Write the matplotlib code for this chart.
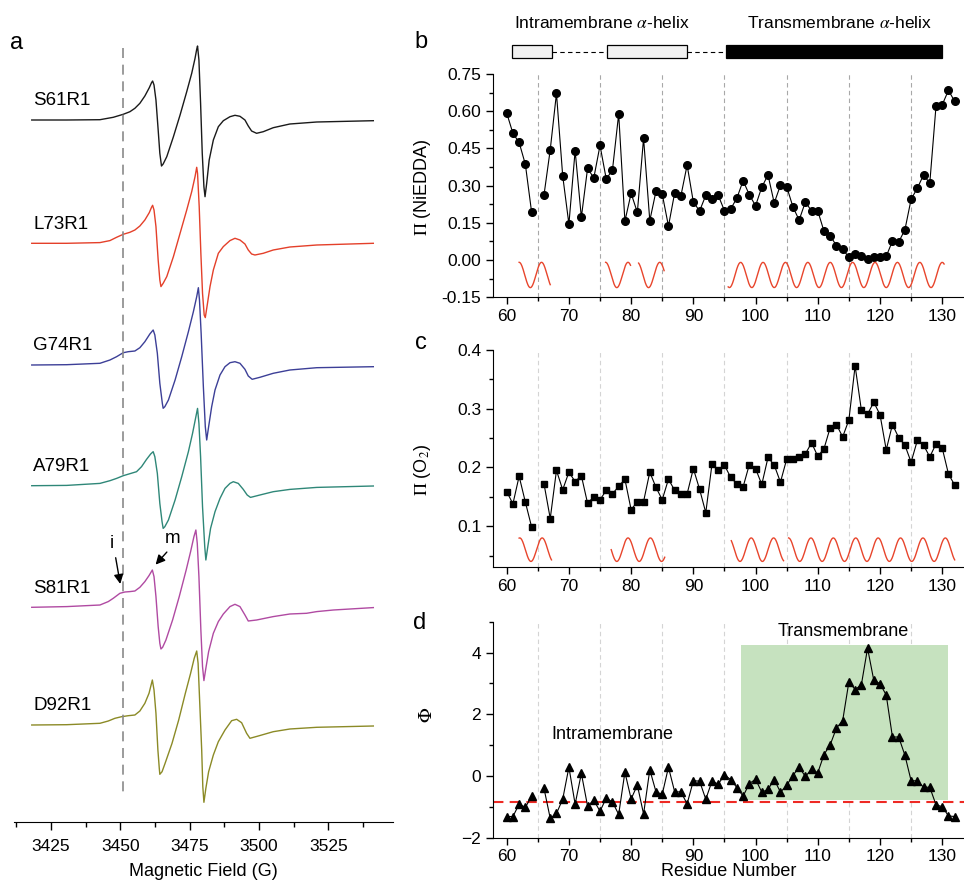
import matplotlib.pyplot as plt
import numpy as np
from matplotlib.ticker import MultipleLocator, FormatStrFormatter
from matplotlib.patches import Rectangle

plt.rcParams['font.family'] = ['Liberation Sans', 'DejaVu Sans']
plt.rcParams['mathtext.fontset'] = 'stix'
plt.rcParams['font.size'] = 12.5

# ---- panel a: EPR spectra (field in G, amplitude in a.u. above each baseline) ----
names = ['S61R1', 'L73R1', 'G74R1', 'A79R1', 'S81R1', 'D92R1']
colors = ['#1a1a1a', '#e4402a', '#3c3f97', '#2f8778', '#b04aa2', '#8b8a26']
baselines = [0, -123.3, -245, -365.7, -487.3, -605]

field_s61 = [3418.0, 3430.6, 3442.6, 3447.4, 3451.0, 3453.4, 3455.2, 3457.0, 3458.8, 3460.4,
             3461.2, 3461.6, 3462.1, 3462.8, 3463.6, 3464.2, 3464.8, 3465.4, 3466.7, 3469.1,
             3471.5, 3473.9, 3475.7, 3476.9, 3477.5, 3477.8, 3478.3, 3478.9, 3479.5, 3480.1,
             3480.5, 3481.1, 3482.0, 3483.5, 3485.3, 3487.1, 3489.5, 3491.3, 3493.1, 3494.9,
             3496.1, 3497.3, 3499.1, 3501.5, 3505.1, 3511.1, 3520.8, 3541.2]
amp_s61 = [0, 0, 0.3, 2.7, 5.7, 8.3, 11.7, 16.7, 24, 32.3,
           37.3, 39, 35, 20, -10, -33.3, -46, -44, -36.7, -16.7,
           5, 28.3, 46.7, 61.7, 70.7, 74, 60, 16.7, -33.3, -66.7,
           -76.7, -63.3, -40, -20, -6.7, -0.7, 3.3, 4.7, 3.7, 0,
           -6, -11, -13.3, -11.7, -7.7, -4, -2, -0.7]

field_l73 = [3418.0, 3430.6, 3442.6, 3446.2, 3448.6, 3451.0, 3453.4, 3455.2, 3457.0, 3458.8,
             3460.4, 3461.2, 3461.6, 3462.1, 3462.8, 3463.6, 3464.2, 3464.6, 3465.4, 3466.7,
             3469.1, 3471.5, 3473.9, 3475.7, 3476.9, 3477.5, 3477.8, 3478.4, 3479.0, 3479.6,
             3480.2, 3480.6, 3481.3, 3482.3, 3483.5, 3485.3, 3487.1, 3489.5, 3491.3, 3493.1,
             3494.9, 3496.1, 3497.3, 3498.5, 3501.5, 3505.1, 3511.1, 3520.8, 3541.2]
amp_l73 = [0, 0, 0.7, 2.7, 6, 9, 11, 13.3, 17.3, 23.3,
           30.7, 36, 38, 33.3, 16.7, -16.7, -36.7, -43.3, -40, -33.3,
           -13.3, 10, 33.3, 51.7, 66.7, 76, 70, 36.7, -10, -50,
           -71.7, -74.3, -61.7, -43.3, -26.7, -10, -3.3, 2.7, 5, 3.3,
           -0.7, -6.7, -10.7, -11.7, -10, -6.7, -3.7, -1.7, 0]

field_g74 = [3418.0, 3430.6, 3442.6, 3446.2, 3448.6, 3451.0, 3452.8, 3455.2, 3457.0, 3458.8,
             3460.6, 3461.8, 3462.4, 3463.3, 3464.2, 3465.1, 3465.4, 3466.0, 3467.3, 3469.7,
             3472.1, 3474.5, 3476.3, 3477.5, 3478.1, 3478.5, 3479.1, 3479.9, 3480.6, 3481.1,
             3481.8, 3482.9, 3484.1, 3485.9, 3487.7, 3489.5, 3491.3, 3493.1, 3494.9, 3496.1,
             3497.5, 3500.3, 3505.1, 3511.1, 3520.8, 3541.2]
amp_g74 = [0, 0.3, 1.7, 5, 8.3, 12.3, 13.3, 14, 17.3, 23.3,
           31, 35, 30, 11.7, -18.3, -38.3, -43.3, -41.7, -35, -15,
           8.3, 33.3, 53.3, 68.3, 77.3, 65, 31.7, -21.7, -61.7, -75,
           -61.7, -41.7, -25, -10, -1.7, 2.3, 3.3, 1.7, -4.3, -11,
           -14.3, -12.3, -8.3, -5, -2.7, -1.7]

field_a79 = [3418.0, 3430.6, 3442.6, 3446.2, 3448.6, 3451.0, 3453.4, 3455.8, 3457.6, 3459.4,
             3460.9, 3461.8, 3462.4, 3463.3, 3464.2, 3465.0, 3465.4, 3466.0, 3467.3, 3469.7,
             3472.1, 3474.5, 3476.0, 3477.2, 3477.8, 3478.3, 3478.9, 3479.6, 3480.4, 3480.8,
             3481.5, 3482.5, 3484.1, 3485.9, 3487.7, 3489.5, 3490.7, 3492.5, 3494.3, 3495.7,
             3496.9, 3500.3, 3505.1, 3511.1, 3520.8, 3541.2]
amp_a79 = [0, 0.3, 2.3, 5, 7.3, 10, 12, 14, 19, 26.3,
           31.7, 34, 29, 12.3, -17.7, -36, -42.7, -41, -34.3, -14.3,
           9, 34, 52.3, 69, 77.3, 62.3, 29, -21, -61, -74.3,
           -61, -42.7, -26, -12.7, -2.7, 2.3, 4, 2.3, -3.7, -9.3,
           -11.7, -9.3, -6, -3.7, -1.7, -0.3]

field_s81 = [3418.0, 3430.6, 3442.6, 3445.6, 3447.4, 3449.8, 3451.6, 3453.4, 3455.2, 3457.0,
             3458.8, 3460.3, 3461.5, 3462.1, 3462.8, 3463.6, 3464.2, 3464.6, 3465.2, 3466.4,
             3468.8, 3471.2, 3473.7, 3475.3, 3476.5, 3477.2, 3477.7, 3478.3, 3479.0, 3479.6,
             3480.1, 3480.8, 3481.8, 3483.5, 3485.3, 3487.1, 3489.5, 3491.3, 3493.1, 3494.9,
             3496.1, 3499.1, 3505.1, 3511.1, 3517.1, 3520.8, 3526.8, 3541.2]
amp_s81 = [0, 0.7, 2.3, 5.7, 9, 14, 15.3, 15.7, 16.3, 20,
           25.7, 31.7, 37.3, 30.7, 10.7, -19.3, -36, -41.7, -40, -32.7,
           -12.7, 10.7, 37.3, 55.7, 70.7, 77.3, 64, 30.7, -22.7, -59.3,
           -73.3, -61, -44.3, -26, -14.3, -6.7, 0.7, 3, 0.7, -7.7,
           -13.7, -12.7, -9.3, -6.7, -6, -4.3, -2.7, -0.3]

field_d92 = [3418.0, 3430.6, 3442.6, 3445.6, 3448.0, 3450.4, 3452.8, 3455.2, 3457.0, 3458.8,
             3460.3, 3461.5, 3462.1, 3462.8, 3463.5, 3464.0, 3464.2, 3465.0, 3466.1, 3468.6,
             3471.0, 3473.4, 3475.3, 3476.6, 3477.5, 3478.0, 3478.5, 3479.3, 3479.7, 3480.1,
             3480.8, 3481.8, 3483.5, 3485.3, 3487.7, 3490.1, 3491.9, 3493.7, 3495.5, 3496.7,
             3499.7, 3505.1, 3511.1, 3520.8, 3541.2]
amp_d92 = [0, 0.3, 1.7, 4, 6.7, 8.3, 9.3, 10, 14, 21.7,
           31.7, 45, 35, 11.7, -25, -43.3, -49.3, -46.7, -38.3, -18.3,
           5, 31.7, 51.7, 66.7, 74, 61.7, 28.3, -25, -61.7, -77.3,
           -63.3, -46.7, -30, -16.7, -5, 4.3, 5.7, 2.3, -8.3, -13.3,
           -11, -6.7, -4, -2.3, -1]

fields = [field_s61, field_l73, field_g74, field_a79, field_s81, field_d92]
amps = [amp_s61, amp_l73, amp_g74, amp_a79, amp_s81, amp_d92]
immobile_field = 3450.9

# ---- panels b, c, d: accessibility per residue (65 not measured) ----
residues = list(range(60, 133))
pi_niedda = [0.593, 0.511, 0.474, 0.386, 0.194, np.nan, 0.263, 0.445, 0.672, 0.340,
             0.145, 0.441, 0.172, 0.370, 0.331, 0.462, 0.327, 0.363, 0.589, 0.157,
             0.269, 0.192, 0.491, 0.159, 0.278, 0.266, 0.137, 0.271, 0.259, 0.383,
             0.234, 0.198, 0.261, 0.246, 0.261, 0.199, 0.206, 0.250, 0.320, 0.263,
             0.219, 0.294, 0.343, 0.230, 0.302, 0.296, 0.215, 0.161, 0.234, 0.198,
             0.198, 0.116, 0.098, 0.058, 0.043, 0.012, 0.024, 0.016, 0.003, 0.013,
             0.013, 0.015, 0.077, 0.073, 0.122, 0.245, 0.290, 0.343, 0.310, 0.620,
             0.626, 0.684, 0.640]
pi_o2 = [0.159, 0.138, 0.185, 0.141, 0.099, np.nan, 0.172, 0.113, 0.195, 0.162,
         0.192, 0.176, 0.186, 0.139, 0.150, 0.145, 0.161, 0.155, 0.168, 0.180,
         0.128, 0.142, 0.142, 0.192, 0.166, 0.145, 0.180, 0.161, 0.155, 0.155,
         0.198, 0.163, 0.123, 0.206, 0.196, 0.204, 0.183, 0.172, 0.167, 0.205,
         0.198, 0.171, 0.217, 0.204, 0.175, 0.214, 0.215, 0.217, 0.223, 0.242,
         0.219, 0.232, 0.268, 0.273, 0.252, 0.281, 0.373, 0.298, 0.291, 0.311,
         0.290, 0.230, 0.273, 0.251, 0.238, 0.209, 0.246, 0.238, 0.218, 0.240,
         0.233, 0.189, 0.170]
phi = [-1.32, -1.32, -0.92, -1.02, -0.67, np.nan, -0.41, -1.38, -1.22, -0.76,
       0.28, -0.92, 0.08, -0.98, -0.79, -1.15, -0.72, -0.85, -1.25, 0.12,
       -0.75, -0.30, -1.24, 0.20, -0.52, -0.60, 0.28, -0.52, -0.52, -0.91,
       -0.16, -0.17, -0.76, -0.17, -0.27, 0.03, -0.12, -0.38, -0.66, -0.25,
       -0.11, -0.53, -0.44, -0.12, -0.53, -0.31, 0.01, 0.28, -0.02, 0.21,
       0.10, 0.69, 1.01, 1.55, 1.79, 3.05, 2.80, 2.95, 4.14, 3.10,
       2.99, 2.62, 1.26, 1.26, 0.67, -0.16, -0.16, -0.37, -0.37, -0.94,
       -1.00, -1.30, -1.32]
phi_cutoff = -0.86
tm_region = (97.6, 131.0, -0.78, 4.24)   # x0, x1, y0, y1 of green box

grid_res = [65, 75, 85, 95, 105, 115, 125]
helix_period = 3.6
# helical periodicity segments: (start, end, residue of a crest)
waves_b = [(62.0, 67.0, 62.0), (75.9, 79.9, 75.9), (81.2, 85.3, 81.0), (95.6, 130.3, 97.6)]
waves_c = [(62.0, 67.2, 62.1), (76.8, 85.4, 79.5), (96.1, 104.5, 99.3), (105.3, 132.0, 105.3)]
wave_b_mid, wave_b_amp = -0.060, 0.051
wave_c_mid, wave_c_amp = 0.060, 0.020

# topology bar above b
intra_boxes = [(60.9, 67.3), (76.1, 88.9)]
tm_bar = (95.3, 130.0)

xlim_res = (57.8, 133.5)
red = '#e8452c'

fig = plt.figure(figsize=(9.64, 8.82), dpi=100)

# ---------------- a ----------------
ax_a = fig.add_axes([14/964, 1-822/882, 379/964, 792/882])
for f, a, off, col, nm in zip(fields, amps, baselines, colors, names):
    ax_a.plot(f, np.array(a) + off, color=col, lw=1.0)
    ax_a.text(3418.5, off + 19, nm, fontsize=13.5, ha='left', va='center')
ax_a.plot([immobile_field, immobile_field], [72, -675], color='#8a8a8a', lw=1.2, ls=(0, (6, 4)))
ax_a.annotate('', xy=(3450.1, -466.7), xytext=(3448.1, -435),
              arrowprops=dict(arrowstyle='-|>', color='black', lw=1, mutation_scale=14))
ax_a.text(3446.9, -423.3, 'i', fontsize=13.5, ha='center', va='center')
ax_a.annotate('', xy=(3462.0, -446.7), xytext=(3467.4, -430),
              arrowprops=dict(arrowstyle='-|>', color='black', lw=1, mutation_scale=14))
ax_a.text(3468.8, -418.3, 'm', fontsize=13.5, ha='center', va='center')
ax_a.set_xlim(3411.6, 3548.3)
ax_a.set_ylim(-702, 90)
for s in ['left', 'right', 'top']:
    ax_a.spines[s].set_visible(False)
ax_a.set_yticks([])
ax_a.xaxis.set_major_locator(MultipleLocator(25))
ax_a.xaxis.set_minor_locator(MultipleLocator(12.5))
ax_a.set_xticks([3425, 3450, 3475, 3500, 3525])
ax_a.tick_params(axis='x', which='major', length=6, width=1, direction='out', labelsize=12.5, pad=6)
ax_a.tick_params(axis='x', which='minor', length=3.5, width=1, direction='out')
ax_a.set_xlabel('Magnetic Field (G)', fontsize=13, labelpad=7)


def style_res_axis(ax):
    ax.set_xlim(*xlim_res)
    ax.spines['right'].set_visible(False)
    ax.spines['top'].set_visible(False)
    ax.xaxis.set_major_locator(MultipleLocator(10))
    ax.xaxis.set_minor_locator(MultipleLocator(5))
    ax.tick_params(which='major', length=5, width=1, direction='out', labelsize=12.5)
    ax.tick_params(which='minor', length=3, width=1, direction='out')


def draw_waves(ax, waves, mid, amp):
    for x0, x1, crest in waves:
        x = np.linspace(x0, x1, 200)
        ax.plot(x, mid + amp * np.cos(2 * np.pi * (x - crest) / helix_period), color=red, lw=1.0)


# ---------------- b ----------------
ax_b = fig.add_axes([493/964, 1-297.3/882, 471/964, 223.3/882])
for g in grid_res:
    ax_b.axvline(g, color='#a8a8a8', lw=0.8, ls=(0, (4, 3)), zorder=0)
ax_b.plot(residues, pi_niedda, color='black', lw=0.8, marker='o', ms=5.5)
draw_waves(ax_b, waves_b, wave_b_mid, wave_b_amp)
style_res_axis(ax_b)
ax_b.set_ylim(-0.15, 0.75)
ax_b.yaxis.set_major_locator(MultipleLocator(0.15))
ax_b.yaxis.set_minor_locator(MultipleLocator(0.075))
ax_b.yaxis.set_major_formatter(FormatStrFormatter('%.2f'))
ax_b.set_ylabel(r'$\Pi$ (NiEDDA)', fontsize=13)
ax_b.yaxis.set_label_coords(-0.127, 0.495)

# ---------------- topology bar ----------------
ax_t = fig.add_axes([493/964, 1-62/882, 471/964, 52/882])
ax_t.set_xlim(*xlim_res)
ax_t.set_ylim(0, 1)
ax_t.axis('off')
for x0, x1 in intra_boxes:
    ax_t.add_patch(Rectangle((x0, 0.071), x1 - x0, 0.256, facecolor='#f1f1f1', edgecolor='black', lw=0.9))
ax_t.add_patch(Rectangle((tm_bar[0], 0.071), tm_bar[1] - tm_bar[0], 0.256, facecolor='black',
                         edgecolor='black', lw=0.9))
ax_t.plot([intra_boxes[0][1], intra_boxes[1][0]], [0.2, 0.2], color='black', lw=0.8, ls=(0, (4, 3)))
ax_t.plot([intra_boxes[1][1], tm_bar[0]], [0.2, 0.2], color='black', lw=0.8, ls=(0, (4, 3)))
ax_t.text(75.3, 0.75, r'Intramembrane $\alpha$-helix', fontsize=12.5, ha='center', va='center')
ax_t.text(113.5, 0.75, r'Transmembrane $\alpha$-helix', fontsize=12.5, ha='center', va='center')

# ---------------- c ----------------
ax_c = fig.add_axes([493/964, 1-567.3/882, 471/964, 217.3/882])
for g in grid_res:
    ax_c.axvline(g, color='#d4d4d4', lw=0.8, ls=(0, (4, 3)), zorder=0)
ax_c.plot(residues, pi_o2, color='black', lw=0.8, marker='s', ms=5)
draw_waves(ax_c, waves_c, wave_c_mid, wave_c_amp)
style_res_axis(ax_c)
ax_c.set_ylim(0.03, 0.4)
ax_c.yaxis.set_major_locator(MultipleLocator(0.1))
ax_c.yaxis.set_minor_locator(MultipleLocator(0.05))
ax_c.yaxis.set_major_formatter(FormatStrFormatter('%.1f'))
ax_c.set_ylabel(r'$\Pi$ (O$_2$)', fontsize=13)
ax_c.yaxis.set_label_coords(-0.127, 0.448)

# ---------------- d ----------------
ax_d = fig.add_axes([493/964, 1-837.5/882, 471/964, 215.8/882])
for g in grid_res:
    ax_d.axvline(g, color='#d4d4d4', lw=0.8, ls=(0, (4, 3)), zorder=0)
ax_d.add_patch(Rectangle((tm_region[0], tm_region[2]), tm_region[1] - tm_region[0],
                         tm_region[3] - tm_region[2], facecolor='#c6e2bf', edgecolor='none', zorder=0.5))
ax_d.axhline(phi_cutoff, color='#ee2a24', lw=1.5, ls=(0, (5, 3)), zorder=1)
ax_d.plot(residues, phi, color='black', lw=0.8, marker='^', ms=6, zorder=2)
ax_d.text(114.1, 4.67, 'Transmembrane', fontsize=13, ha='center', va='center')
ax_d.text(77.0, 1.33, 'Intramembrane', fontsize=13, ha='center', va='center')
style_res_axis(ax_d)
ax_d.set_ylim(-2, 5)
ax_d.yaxis.set_major_locator(MultipleLocator(2))
ax_d.yaxis.set_minor_locator(MultipleLocator(1))
ax_d.set_ylabel(r'$\Phi$', fontsize=14)
ax_d.yaxis.set_label_coords(-0.12, 0.568)
ax_d.set_xlabel('Residue Number', fontsize=13, labelpad=-1)

# panel letters
fig.text(17/964, 1-43/882, 'a', fontsize=17, ha='center', va='center')
fig.text(421/964, 1-42/882, 'b', fontsize=17, ha='center', va='center')
fig.text(421/964, 1-343/882, 'c', fontsize=17, ha='center', va='center')
fig.text(420/964, 1-623/882, 'd', fontsize=17, ha='center', va='center')

plt.savefig('out.png', dpi=100)
